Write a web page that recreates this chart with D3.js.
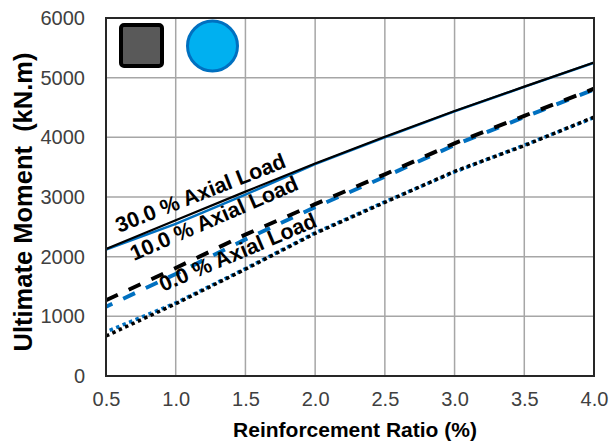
<!DOCTYPE html>
<html>
<head>
<meta charset="utf-8">
<script src="https://cdn.jsdelivr.net/npm/d3@7"></script>
<style>
  html, body { margin: 0; padding: 0; background: #fff; }
  svg { display: block; font-family: "Liberation Sans", Arial, sans-serif; }
</style>
</head>
<body>
<svg id="chart" width="611" height="445"></svg>
<script>
// Reinforcement ratio (%) sampled along each curve
const ratio = [0.5, 1.0, 1.5, 2.0, 2.5, 3.0, 3.5, 4.0];

// Ultimate moment (kN.m) — square section (black) and circular section (blue)
const squareAxial30 = [2130, 2610, 3090, 3560, 4010, 4440, 4850, 5255];
const circleAxial30 = [2120, 2550, 3040, 3550, 4000, 4435, 4845, 5250];
const squareAxial10 = [1270, 1810, 2370, 2880, 3380, 3900, 4360, 4815];
const circleAxial10 = [1160, 1710, 2290, 2830, 3340, 3870, 4340, 4800];
const squareAxial0  = [670, 1210, 1790, 2390, 2910, 3430, 3860, 4340];
const circleAxial0  = [740, 1225, 1800, 2400, 2920, 3420, 3870, 4330];

const xTicks = [0.5, 1.0, 1.5, 2.0, 2.5, 3.0, 3.5, 4.0];
const yTicks = [0, 1000, 2000, 3000, 4000, 5000, 6000];

const curveLabels = ["30.0 % Axial Load", "10.0 % Axial Load", "0.0 % Axial Load"];

const svg = d3.select("#chart");
const plot = { left: 106, right: 594, top: 18, bottom: 376 };

const x = d3.scaleLinear().domain([0.5, 4.0]).range([plot.left, plot.right]);
const y = d3.scaleLinear().domain([0, 6000]).range([plot.bottom, plot.top]);

const BLUE = "#0070C0";

// Gridlines
const grid = svg.append("g");
grid.selectAll("line.vx").data(xTicks.slice(1, -1)).join("line")
  .attr("x1", d => x(d)).attr("x2", d => x(d))
  .attr("y1", plot.top).attr("y2", plot.bottom)
  .attr("stroke", "#a6a6a6").attr("stroke-width", 1.5);
grid.selectAll("line.hy").data(yTicks.slice(1, -1)).join("line")
  .attr("x1", plot.left).attr("x2", plot.right)
  .attr("y1", d => y(d)).attr("y2", d => y(d))
  .attr("stroke", "#a6a6a6").attr("stroke-width", 1.5);

// Axes (labels only; the plot frame is drawn separately)
const xAxis = svg.append("g")
  .attr("transform", `translate(0,${plot.bottom})`)
  .call(d3.axisBottom(x).tickValues(xTicks).tickFormat(d3.format(".1f")).tickSize(0).tickPadding(16));
const yAxis = svg.append("g")
  .attr("transform", `translate(${plot.left},0)`)
  .call(d3.axisLeft(y).tickValues(yTicks).tickFormat(d3.format("d")).tickSize(0).tickPadding(21));
[xAxis, yAxis].forEach(a => {
  a.select(".domain").remove();
  a.selectAll("text").attr("font-size", 20).attr("fill", "#404040")
    .attr("font-family", "Liberation Sans, Arial, sans-serif");
});

// Curves
const line = d3.line().x((d, i) => x(ratio[i])).y(d => y(d));
const series = [
  { data: circleAxial0,  color: BLUE,   width: 3.5, dash: "3.5,3.5", offset: 3 },
  { data: squareAxial0,  color: "#000", width: 3.5, dash: "3.5,3.5", offset: 0 },
  { data: circleAxial10, color: BLUE,   width: 4,   dash: "13,12",   offset: 6 },
  { data: squareAxial10, color: "#000", width: 4,   dash: "13,12",   offset: 0 },
  { data: circleAxial30, color: BLUE,   width: 2.5, dash: null,      offset: 0 },
  { data: squareAxial30, color: "#000", width: 2.2, dash: null,      offset: 0 }
];
svg.append("g").selectAll("path").data(series).join("path")
  .attr("d", d => line(d.data))
  .attr("fill", "none")
  .attr("stroke", d => d.color)
  .attr("stroke-width", d => d.width)
  .attr("stroke-dasharray", d => d.dash)
  .attr("stroke-dashoffset", d => d.offset);

// Plot frame
svg.append("rect")
  .attr("x", plot.left).attr("y", plot.top)
  .attr("width", plot.right - plot.left).attr("height", plot.bottom - plot.top)
  .attr("fill", "none").attr("stroke", "#262626").attr("stroke-width", 2);

// Curve labels
const labelPos = [
  { x: 119, y: 233, angle: -21.5 },
  { x: 134, y: 261, angle: -23.5 },
  { x: 163, y: 292, angle: -23 }
];
svg.append("g").selectAll("text").data(curveLabels).join("text")
  .attr("transform", (d, i) => `translate(${labelPos[i].x},${labelPos[i].y}) rotate(${labelPos[i].angle})`)
  .attr("font-size", 21.5).attr("font-weight", "bold").attr("fill", "#000")
  .text(d => d);

// Section symbols: square and circular column
svg.append("rect")
  .attr("x", 121).attr("y", 25).attr("width", 41).attr("height", 41).attr("rx", 3)
  .attr("fill", "#595959").attr("stroke", "#000").attr("stroke-width", 4);
svg.append("circle")
  .attr("cx", 212.5).attr("cy", 46).attr("r", 25)
  .attr("fill", "#00B0F0").attr("stroke", BLUE).attr("stroke-width", 3);

// Axis titles
svg.append("text")
  .attr("x", 355).attr("y", 437).attr("text-anchor", "middle")
  .attr("font-size", 21).attr("font-weight", "bold").attr("fill", "#000")
  .text("Reinforcement Ratio (%)");
svg.append("text")
  .attr("transform", "translate(32,202) rotate(-90)")
  .attr("text-anchor", "middle")
  .style("white-space", "pre")
  .attr("font-size", 25.5).attr("font-weight", "bold").attr("fill", "#000")
  .text("Ultimate Moment  (kN.m)");
</script>
</body>
</html>
